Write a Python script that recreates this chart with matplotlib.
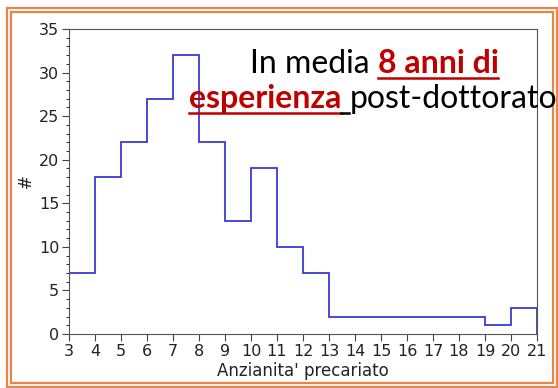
import numpy as np
import matplotlib.pyplot as plt
from matplotlib.patches import Rectangle
from matplotlib.lines import Line2D

# histogram data (bin edges and counts)
edges = [3, 4, 5, 6, 7, 8, 9, 10, 11, 12, 13, 14, 15, 16, 17, 18, 19, 20, 21]
counts = [7, 18, 22, 27, 32, 22, 13, 19, 10, 7, 2, 2, 2, 2, 2, 2, 1, 3]

x_label = "Anzianita' precariato"
y_label = "#"

RED = "#c00000"
line1 = [("In media ", "black", "normal", False), ("8 anni di", RED, "bold", True)]
line2 = [("esperienza", RED, "bold", True), (" ", "black", "normal", True),
         ("post-dottorato", "black", "normal", False)]

W, H = 558, 388
fig = plt.figure(figsize=(W / 100, H / 100), dpi=100)
ax = fig.add_axes([69 / W, 1 - 334 / H, (537 - 69) / W, (334 - 29) / H])

ax.stairs(counts, edges, color="#3a3ad8", lw=1.3)
ax.set_xlim(3, 21)
ax.set_ylim(0, 35)
ax.set_xticks(edges)
ax.set_yticks(range(0, 36, 5))
ax.set_yticks(range(0, 36), minor=True)
ax.tick_params(labelsize=11.5, colors="#444444", pad=2, labelcolor="#222222")
ax.tick_params(which="major", length=5)
ax.tick_params(axis="y", which="minor", length=2.5)
for s in ax.spines.values():
    s.set_color("#555555")
ax.set_xlabel(x_label, fontsize=12, labelpad=2, color="#222222")
ax.set_ylabel(y_label, fontsize=12, labelpad=3, color="#222222")

# orange double border around the figure
for (x0, y0, x1, y1) in [(7, 8, 557, 387), (11, 12, 553, 383)]:
    fig.patches.append(Rectangle((x0 / W, 1 - y1 / H), (x1 - x0) / W, (y1 - y0) / H,
                                 transform=fig.transFigure, fill=False,
                                 edgecolor="#e8864a", lw=1.6))

# annotation text, centered lines with mixed styles
renderer = fig.canvas.get_renderer()


def draw_line(segments, baseline_px, center_px, size=23):
    texts = []
    x = 0
    for txt, col, weight, under in segments:
        t = fig.text(0, 0, txt, color=col, fontweight=weight, fontsize=size,
                     family=["Lato", "DejaVu Sans"], transform=None,
                     va="baseline", ha="left")
        if txt.strip():
            w = t.get_window_extent(renderer).width
        else:
            w = size * 0.25 * 100 / 72
        texts.append((t, x, w, under, col))
        x += w
    start = center_px - x / 2
    ybase = H - baseline_px
    for t, off, w, under, col in texts:
        t.set_position((start + off, ybase))
        if under:
            fig.lines.append(Line2D([start + off, start + off + w], [ybase - 5, ybase - 5],
                                    transform=None, color=col, lw=1.8))


draw_line(line1, 73, 374)
draw_line(line2, 108, 373)

fig.savefig("out.png", dpi=100)
